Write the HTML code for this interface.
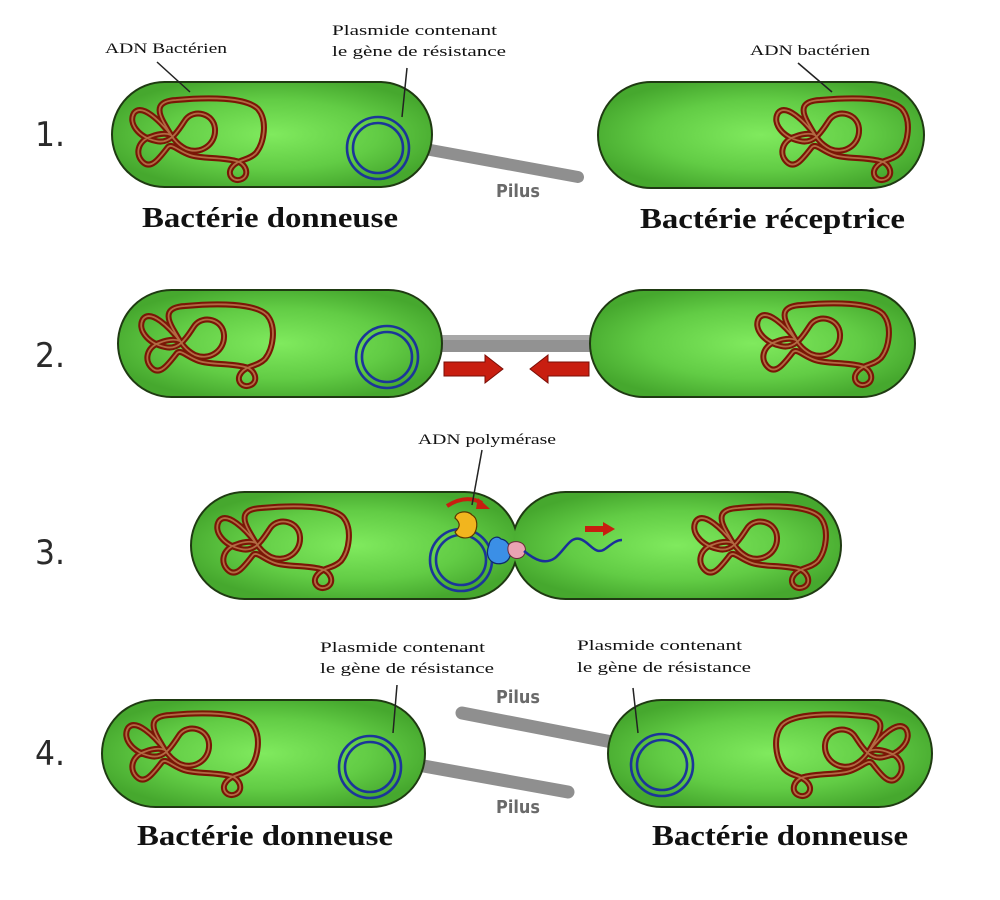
<!DOCTYPE html>
<html>
<head>
<meta charset="utf-8">
<style>
html,body{margin:0;padding:0;background:#fff;}
svg{display:block;}
.num{font-family:"DejaVu Sans","Liberation Sans",sans-serif;font-size:34px;fill:#2a2a2a;}
.sm{font-family:"Liberation Serif",serif;font-size:15px;fill:#111;}
.big{font-family:"Liberation Serif",serif;font-size:28px;font-weight:bold;fill:#111;}
.pil{font-family:"DejaVu Sans","Liberation Sans",sans-serif;font-size:18px;fill:#6a6a6a;font-weight:bold;}
</style>
</head>
<body>
<svg width="1000" height="900" viewBox="0 0 1000 900" xmlns="http://www.w3.org/2000/svg">
<defs>
  <radialGradient id="g" cx="50%" cy="50%" r="55%" fx="50%" fy="50%">
    <stop offset="0" stop-color="#80ea5e"/>
    <stop offset="0.6" stop-color="#62cc45"/>
    <stop offset="1" stop-color="#46a82e"/>
  </radialGradient>
  <path id="tg" d="M43,38 C32,24 14,6 6,16 C0,26 10,40 28,44 C44,48 52,30 58,22 C66,12 86,16 87,32 C88,48 72,58 58,52 C46,46 42,36 36,26 C28,12 30,4 48,3 C80,0 118,0 130,12 C140,24 136,46 128,56 C120,64 110,62 104,70 C98,78 106,86 114,82 C122,78 118,66 108,64 C92,60 74,62 62,58 C50,54 44,46 40,50 C32,60 24,72 16,66 C6,58 10,44 22,40 C32,36 38,36 43,38 Z"/>
  <g id="tangle">
    <use href="#tg" fill="none" stroke="#7a1606" stroke-width="6" stroke-linejoin="round"/>
    <use href="#tg" fill="none" stroke="#b26a42" stroke-width="1.8" stroke-linejoin="round"/>
  </g>
  <g id="plas">
    <circle r="31" fill="none" stroke="#1b3699" stroke-width="2.6"/>
    <circle r="25" fill="none" stroke="#1b3699" stroke-width="2.6"/>
  </g>
</defs>

<!-- Numbers -->
<text class="num" x="35" y="146" textLength="30" lengthAdjust="spacingAndGlyphs">1.</text>
<text class="num" x="35" y="367" textLength="30" lengthAdjust="spacingAndGlyphs">2.</text>
<text class="num" x="35" y="564" textLength="30" lengthAdjust="spacingAndGlyphs">3.</text>
<text class="num" x="35" y="765" textLength="30" lengthAdjust="spacingAndGlyphs">4.</text>

<!-- ROW 1 -->
<line x1="425" y1="149" x2="578" y2="177" stroke="#8f8f8f" stroke-width="12" stroke-linecap="round"/>
<rect x="112" y="82" width="320" height="105" rx="52.5" fill="url(#g)" stroke="#1f3a12" stroke-width="2"/>
<use href="#tangle" transform="translate(128,97)"/>
<use href="#plas" transform="translate(378,148)"/>
<rect x="598" y="82" width="326" height="106" rx="53" fill="url(#g)" stroke="#1f3a12" stroke-width="2"/>
<use href="#tangle" transform="translate(772,97)"/>

<line x1="157" y1="62" x2="190" y2="92" stroke="#222" stroke-width="1.5"/>
<line x1="407" y1="68" x2="402" y2="117" stroke="#222" stroke-width="1.5"/>
<line x1="798" y1="63" x2="832" y2="92" stroke="#222" stroke-width="1.5"/>

<text class="sm" x="105" y="53" textLength="122" lengthAdjust="spacingAndGlyphs">ADN Bactérien</text>
<text class="sm" x="332" y="35" textLength="165" lengthAdjust="spacingAndGlyphs">Plasmide contenant</text>
<text class="sm" x="332" y="56" textLength="174" lengthAdjust="spacingAndGlyphs">le gène de résistance</text>
<text class="sm" x="750" y="55" textLength="120" lengthAdjust="spacingAndGlyphs">ADN bactérien</text>
<text class="pil" x="496" y="197" textLength="44" lengthAdjust="spacingAndGlyphs">Pilus</text>
<text class="big" x="142" y="227" textLength="256" lengthAdjust="spacingAndGlyphs">Bactérie donneuse</text>
<text class="big" x="640" y="228" textLength="265" lengthAdjust="spacingAndGlyphs">Bactérie réceptrice</text>

<!-- ROW 2 -->
<rect x="436" y="335" width="160" height="17" fill="#929292"/>
<rect x="436" y="335" width="160" height="5" fill="#a8a8a8"/>
<rect x="118" y="290" width="324" height="107" rx="53.5" fill="url(#g)" stroke="#1f3a12" stroke-width="2"/>
<use href="#tangle" transform="translate(137,303)"/>
<use href="#plas" transform="translate(387,357)"/>
<rect x="590" y="290" width="325" height="107" rx="53.5" fill="url(#g)" stroke="#1f3a12" stroke-width="2"/>
<use href="#tangle" transform="translate(753,302)"/>
<!-- red arrows -->
<path d="M444,362 L485,362 L485,355 L503,369 L485,383 L485,376 L444,376 Z" fill="#c81e10" stroke="#7a0e06" stroke-width="1"/>
<path d="M589,362 L548,362 L548,355 L530,369 L548,383 L548,376 L589,376 Z" fill="#c81e10" stroke="#7a0e06" stroke-width="1"/>

<!-- ROW 3 -->
<rect x="192" y="493" width="325" height="105" rx="52.5" fill="none" stroke="#1f3a12" stroke-width="4"/>
<rect x="513" y="493" width="327" height="105" rx="52.5" fill="none" stroke="#1f3a12" stroke-width="4"/>
<rect x="192" y="493" width="325" height="105" rx="52.5" fill="url(#g)"/>
<rect x="513" y="493" width="327" height="105" rx="52.5" fill="url(#g)"/>
<use href="#tangle" transform="translate(213,505)"/>
<use href="#tangle" transform="translate(690,505)"/>
<use href="#plas" transform="translate(461,560)"/>
<!-- curved red arrow -->
<path d="M447,506 Q466,494 482,503" fill="none" stroke="#c81e10" stroke-width="4"/>
<path d="M478,498 L490,509 L476,509 Z" fill="#c81e10"/>
<!-- polymerase blobs -->
<path d="M455,518 C456,511 468,510 472,515 C478,518 478,528 474,534 C469,540 458,539 455,532 C459,528 462,524 455,518 Z" fill="#f2b51e" stroke="#5a3a00" stroke-width="1.2"/>
<path d="M489,545 C490,538 497,535 501,539 C508,540 512,548 510,556 C508,564 497,566 491,561 C486,556 487,550 489,545 Z" fill="#3b8fe6" stroke="#0e2a6a" stroke-width="1.2"/>
<path d="M508,547 C509,541 518,540 523,544 C527,548 526,556 520,558 C513,560 507,555 508,547 Z" fill="#eaa3b3" stroke="#6a2a3a" stroke-width="1"/>
<!-- single strand -->
<path d="M524,551 C535,560 545,565 555,558 C565,550 570,536 580,539 C590,542 595,556 605,549 C612,544 616,540 622,540" fill="none" stroke="#1a2f9a" stroke-width="2.5"/>
<!-- small red arrow -->
<path d="M585,526 L603,526 L603,522 L615,529 L603,536 L603,532 L585,532 Z" fill="#c81e10"/>
<line x1="482" y1="450" x2="472" y2="505" stroke="#222" stroke-width="1.5"/>
<text class="sm" x="418" y="444" textLength="138" lengthAdjust="spacingAndGlyphs">ADN polymérase</text>

<!-- ROW 4 -->
<line x1="462" y1="713" x2="612" y2="742" stroke="#8f8f8f" stroke-width="13" stroke-linecap="round"/>
<line x1="418" y1="765" x2="568" y2="792" stroke="#8f8f8f" stroke-width="13" stroke-linecap="round"/>
<rect x="102" y="700" width="323" height="107" rx="53.5" fill="url(#g)" stroke="#1f3a12" stroke-width="2"/>
<use href="#tangle" transform="translate(122,712)"/>
<use href="#plas" transform="translate(370,767)"/>
<rect x="608" y="700" width="324" height="107" rx="53.5" fill="url(#g)" stroke="#1f3a12" stroke-width="2"/>
<use href="#tangle" transform="translate(912,713) scale(-1,1)"/>
<use href="#plas" transform="translate(662,765)"/>

<line x1="397" y1="685" x2="393" y2="733" stroke="#222" stroke-width="1.5"/>
<line x1="633" y1="688" x2="638" y2="733" stroke="#222" stroke-width="1.5"/>

<text class="sm" x="320" y="652" textLength="165" lengthAdjust="spacingAndGlyphs">Plasmide contenant</text>
<text class="sm" x="320" y="673" textLength="174" lengthAdjust="spacingAndGlyphs">le gène de résistance</text>
<text class="sm" x="577" y="650" textLength="165" lengthAdjust="spacingAndGlyphs">Plasmide contenant</text>
<text class="sm" x="577" y="672" textLength="174" lengthAdjust="spacingAndGlyphs">le gène de résistance</text>
<text class="pil" x="496" y="703" textLength="44" lengthAdjust="spacingAndGlyphs">Pilus</text>
<text class="pil" x="496" y="813" textLength="44" lengthAdjust="spacingAndGlyphs">Pilus</text>
<text class="big" x="137" y="845" textLength="256" lengthAdjust="spacingAndGlyphs">Bactérie donneuse</text>
<text class="big" x="652" y="845" textLength="256" lengthAdjust="spacingAndGlyphs">Bactérie donneuse</text>
</svg>
</body>
</html>
